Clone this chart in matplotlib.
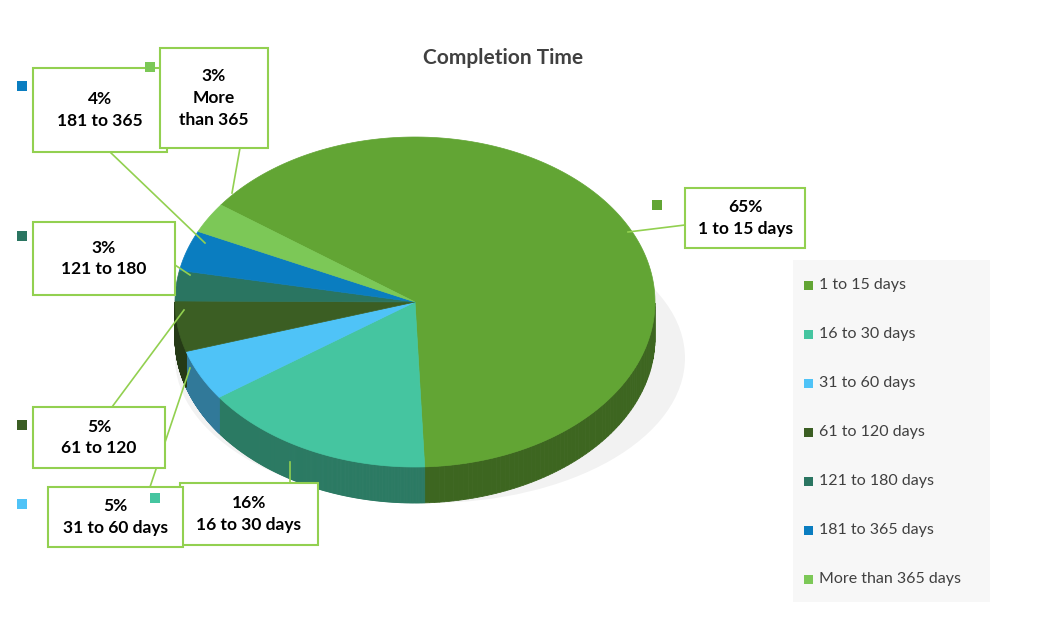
import numpy as np
import matplotlib.pyplot as plt
from matplotlib.patches import Polygon, Rectangle, Ellipse
from matplotlib.colors import to_rgb

plt.rcParams['font.family'] = ['Lato', 'DejaVu Sans']

categories = ['1 to 15 days', '16 to 30 days', '31 to 60 days', '61 to 120 days',
              '121 to 180 days', '181 to 365 days', 'More than 365 days']
values = [65, 16, 5, 5, 3, 4, 3]
box_text = ['65%\n1 to 15 days', '16%\n16 to 30 days', '5%\n31 to 60 days', '5%\n61 to 120',
            '3%\n121 to 180', '4%\n181 to 365', '3%\nMore\nthan 365']
colors = ['#62A534', '#45C5A0', '#4FC3F7', '#3B5E23', '#2A7561', '#0A7DC0', '#7CC857']

fig = plt.figure(figsize=(10.55, 6.31), dpi=100)
ax = fig.add_axes([0, 0, 1, 1])
ax.set_xlim(0, 1055)
ax.set_ylim(631, 0)
ax.axis('off')

cx, cy, rx, ry, depth = 415, 302, 240, 165, 36
start = 144.0
total = sum(values)

# soft shadow
ax.add_patch(Ellipse((cx + 15, cy + depth + 20), 2 * rx + 30, 2 * ry - 40, color='#000000', alpha=0.05, lw=0))

def pt(a, dy=0):
    r = np.radians(a)
    return cx + rx * np.cos(r), cy - ry * np.sin(r) + dy

bounds = []
cum = 0
for v in values:
    a2 = start - cum / total * 360
    cum += v
    a1 = start - cum / total * 360
    bounds.append((a1, a2))

# side walls
for (a1, a2), c in zip(bounds, colors):
    dark = tuple(x * 0.62 for x in to_rgb(c))
    angs = np.linspace(a1, a2, 200)
    for i in range(len(angs) - 1):
        m = (angs[i] + angs[i + 1]) / 2
        if np.sin(np.radians(m)) < 0:
            p1, p2 = pt(angs[i]), pt(angs[i + 1])
            quad = [p1, p2, pt(angs[i + 1], depth), pt(angs[i], depth)]
            ax.add_patch(Polygon(quad, closed=True, fc=dark, ec=dark, lw=0.6))

# tops
for (a1, a2), c in zip(bounds, colors):
    angs = np.linspace(a1, a2, 200)
    poly = [(cx, cy)] + [pt(a) for a in angs]
    ax.add_patch(Polygon(poly, closed=True, fc=c, ec=c, lw=0.5))

ax.text(503, 58, 'Completion Time', ha='center', va='center', fontsize=15,
        fontweight='bold', color='#404040')

# callout boxes: (x0, y0, x1, y1), square pos, leader line
boxes = [((685, 188, 805, 248), (657, 205), [(685, 225), (628, 232)]),
         ((180, 483, 318, 545), (155, 498), [(290, 483), (290, 462)]),
         ((48, 487, 183, 547), (22, 504), [(150, 487), (190, 368)]),
         ((33, 407, 165, 468), (22, 425), [(112, 407), (184, 310)]),
         ((33, 222, 175, 295), (22, 236), [(175, 265), (190, 275)]),
         ((33, 68, 167, 152), (22, 86), [(110, 152), (205, 243)]),
         ((160, 48, 268, 148), (150, 67), [(240, 148), (232, 193)])]
for (b, sq, ln), c, t in zip(boxes, colors, box_text):
    x0, y0, x1, y1 = b
    ax.plot([p[0] for p in ln], [p[1] for p in ln], color='#92D050', lw=1.2, zorder=4)
    ax.add_patch(Rectangle((x0, y0), x1 - x0, y1 - y0, fc='white', ec='#92D050', lw=1.5, zorder=5))
    ax.text((x0 + x1) / 2, (y0 + y1) / 2, t, ha='center', va='center', fontsize=12.5,
            fontweight='bold', color='#000000', linespacing=1.45, zorder=6)
    ax.add_patch(Rectangle((sq[0] - 5, sq[1] - 5), 10, 10, fc=c, ec='none', zorder=6))

# legend
ax.add_patch(Rectangle((793, 260), 197, 342, fc='#F7F7F7', ec='none'))
for i, (lab, c) in enumerate(zip(categories, colors)):
    y = 285 + i * 49
    ax.add_patch(Rectangle((804, y - 4), 9, 9, fc=c, ec='none'))
    ax.text(819, y, lab, ha='left', va='center', fontsize=11.5, color='#404040')

fig.savefig('out.png', dpi=100)
